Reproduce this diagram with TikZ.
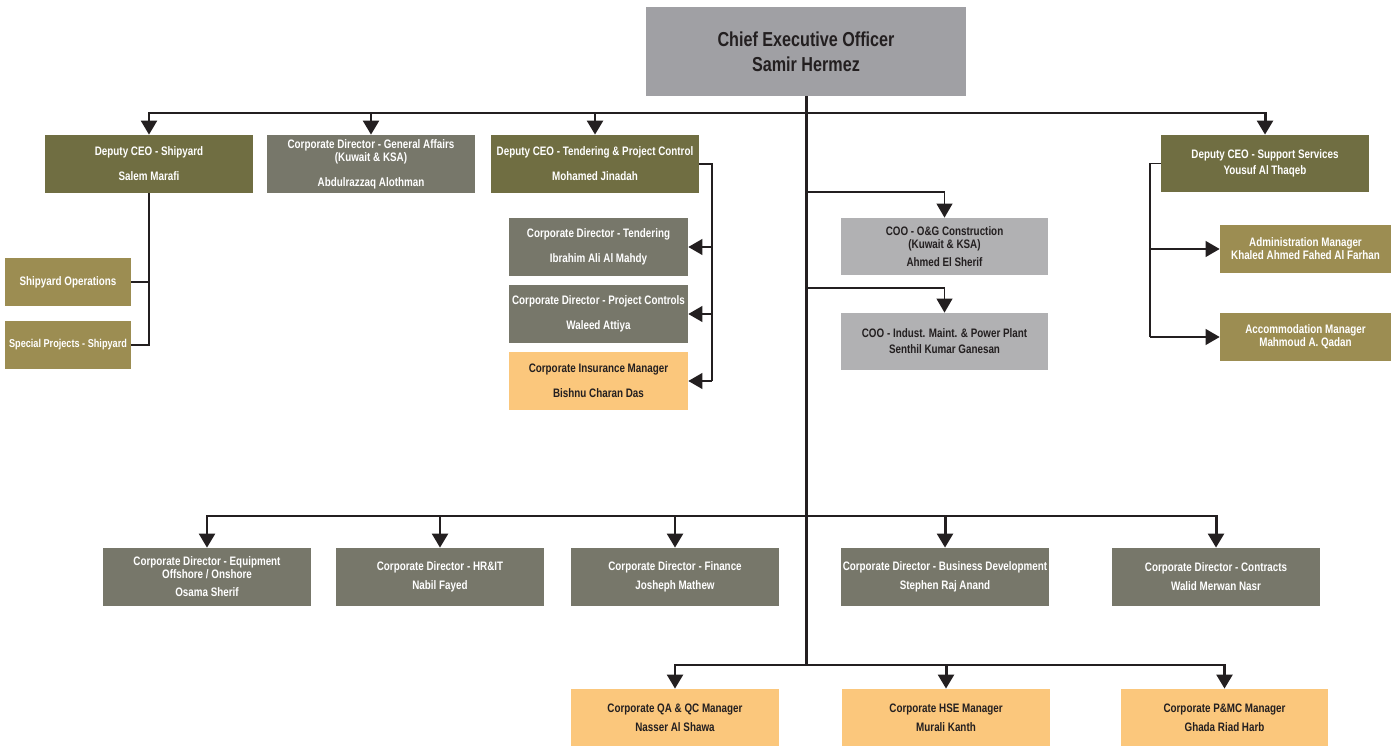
\documentclass[tikz,border=0pt]{standalone}
\usepackage{fontspec}
\setmainfont{Liberation Sans}[FakeStretch=0.8]
\usetikzlibrary{arrows.meta}
\definecolor{ceogrey}{HTML}{A0A0A4}
\definecolor{olive}{HTML}{706E42}
\definecolor{stone}{HTML}{77776A}
\definecolor{khaki}{HTML}{9C8D52}
\definecolor{silver}{HTML}{B1B1B3}
\definecolor{peach}{HTML}{FBC77C}
\definecolor{ink}{HTML}{231F20}
\tikzset{
  unit/.style={inner sep=0pt, minimum width=4.16cm, minimum height=1.16cm, align=center,
    text=white, font=\fontsize{7}{7.4}\selectfont\bfseries},
  ceobox/.style={unit, fill=ceogrey, text=ink, minimum width=6.4cm, minimum height=1.78cm,
    font=\fontsize{11.5}{12.5}\selectfont\bfseries},
  deputy/.style={unit, fill=olive},
  director/.style={unit, fill=stone},
  section/.style={unit, fill=khaki},
  coo/.style={unit, fill=silver, text=ink, minimum height=1.14cm},
  manager/.style={unit, fill=peach, text=ink},
  tip/.style={-{Triangle[width=9pt,length=8pt]}}
}
\begin{document}
\begin{tikzpicture}[x=0.02cm,y=-0.02cm]
\useasboundingbox (0,0) rectangle (1397,746);
    \node[ceobox] (ceo) at (806,51.5) {Chief Executive Officer\\[1.7pt]Samir Hermez};
    \node[deputy] (dship) at (149,164) {Deputy CEO - Shipyard\\[6.8pt]Salem Marafi};
    \node[director] (dga) at (371,164) {Corporate Director - General Affairs\\(Kuwait \& KSA)\\[6.8pt]Abdulrazzaq Alothman};
    \node[deputy] (dten) at (595,164) {Deputy CEO - Tendering \& Project Control\\[6.8pt]Mohamed Jinadah};
    \node[deputy, minimum height=1.14cm] (dsup) at (1265,163.5) {Deputy CEO - Support Services\\[1.7pt]Yousuf Al Thaqeb};
    \node[section, minimum width=2.52cm, minimum height=0.96cm] (shops) at (68,282) {Shipyard Operations};
    \node[section, minimum width=2.52cm, minimum height=0.96cm, font=\fontsize{6.5}{7}\selectfont\bfseries] (spec) at (68,345) {Special Projects - Shipyard};
    \node[director, minimum width=3.58cm] (cdten) at (598.5,247) {Corporate Director - Tendering\\[6.8pt]Ibrahim Ali Al Mahdy};
    \node[director, minimum width=3.58cm] (cdpc) at (598.5,314) {Corporate Director - Project Controls\\[6.8pt]Waleed Attiya};
    \node[manager, minimum width=3.58cm] (ins) at (598.5,381) {Corporate Insurance Manager\\[6.8pt]Bishnu Charan Das};
    \node[coo] (cooog) at (944.5,246.5) {COO - O\&G Construction\\(Kuwait \& KSA)\\[2.8pt]Ahmed El Sherif};
    \node[coo] (cooind) at (944.5,341.5) {COO - Indust. Maint. \& Power Plant\\[1.7pt]Senthil Kumar Ganesan};
    \node[section, minimum width=3.42cm, minimum height=0.96cm] (admin) at (1305.5,249) {Administration Manager\\Khaled Ahmed Fahed Al Farhan};
    \node[section, minimum width=3.42cm, minimum height=0.96cm] (accom) at (1305.5,337) {Accommodation Manager\\Mahmoud A. Qadan};
    \node[director] (equip) at (207,577) {Corporate Director - Equipment\\Offshore / Onshore\\[2.8pt]Osama Sherif};
    \node[director] (hr) at (440,577) {Corporate Director - HR\&IT\\[3.4pt]Nabil Fayed};
    \node[director] (fin) at (675,577) {Corporate Director - Finance\\[3.4pt]Josheph Mathew};
    \node[director] (bd) at (945,577) {Corporate Director - Business Development\\[3.4pt]Stephen Raj Anand};
    \node[director] (con) at (1216,577) {Corporate Director - Contracts\\[3.4pt]Walid Merwan Nasr};
    \node[manager, minimum height=1.14cm] (qa) at (675,717.5) {Corporate QA \& QC Manager\\[3.4pt]Nasser Al Shawa};
    \node[manager, minimum height=1.14cm] (hse) at (946,717.5) {Corporate HSE Manager\\[3.4pt]Murali Kanth};
    \node[manager, minimum height=1.14cm] (pmc) at (1224.5,717.5) {Corporate P\&MC Manager\\[3.4pt]Ghada Riad Harb};
    \coordinate (bus1) at (806,113);
    \coordinate (bus2) at (806,516);
    \coordinate (bus3) at (806,665);
    \coordinate (coo1) at (806,192);
    \coordinate (coo2) at (806,288);
    \coordinate (tbus) at (712,381);
    \coordinate (sbus) at (1150,337);
\begin{scope}[ink,line width=1.7pt,tip]
    \draw[-] (ceo.south) -- (bus3);
    \foreach \n in {dship,dga,dten,dsup} \draw (bus1) -| (\n.north);
    \foreach \n in {equip,hr,fin,bd,con} \draw (bus2) -| (\n.north);
    \foreach \n in {qa,hse,pmc} \draw (bus3) -| (\n.north);
\end{scope}
\begin{scope}[ink,line width=1pt,tip]
    \draw (coo1) -| (cooog.north);
    \draw (coo2) -| (cooind.north);
    \draw[-] (dten.east) -| (tbus);
    \foreach \n in {cdten,cdpc,ins} \draw (tbus |- \n.east) -- (\n.east);
    \draw[-] (dsup.west) -| (sbus);
    \foreach \n in {admin,accom} \draw (sbus |- \n.west) -- (\n.west);
    \draw[-] (dship.south) |- (spec.east);
    \draw[-] (dship.south |- shops.east) -- (shops.east);
\end{scope}
\end{tikzpicture}
\end{document}
